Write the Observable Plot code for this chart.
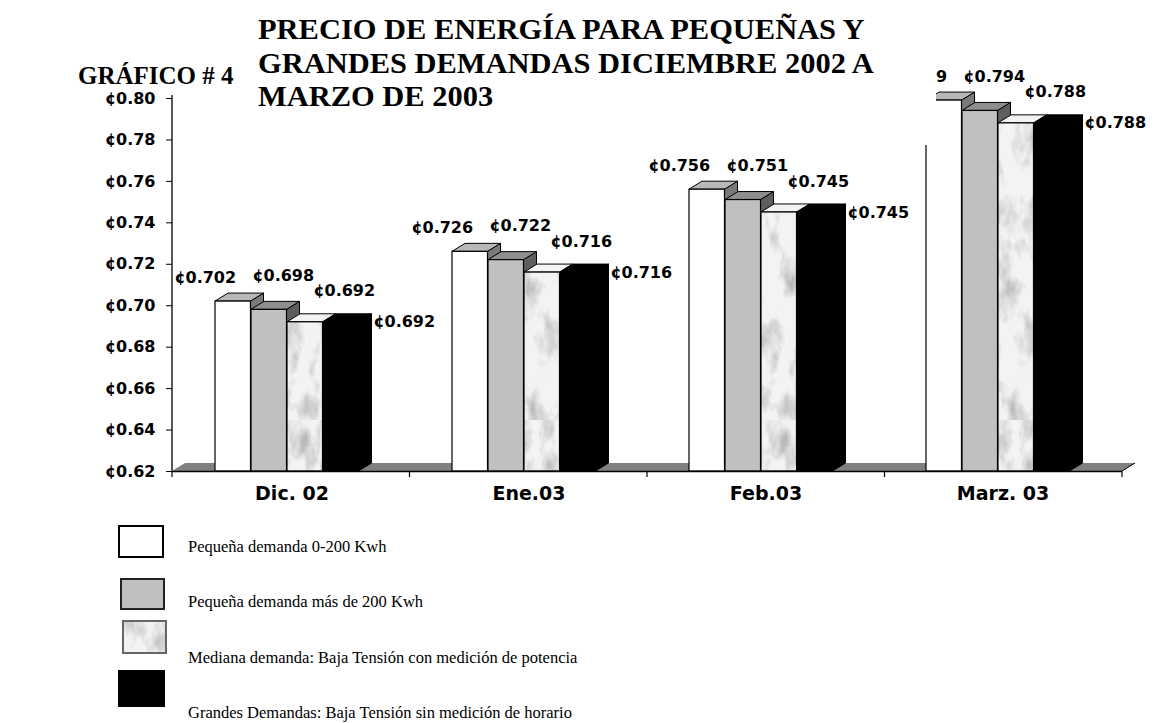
<!DOCTYPE html>
<html>
<head>
<meta charset="utf-8">
<script src="https://cdn.jsdelivr.net/npm/d3@7"></script>
<script src="https://cdn.jsdelivr.net/npm/@observablehq/plot@0.6"></script>
<style>
  body { margin: 0; background: #fff; }
  #page { position: relative; width: 1175px; height: 723px; overflow: hidden; background: #fff; }
  #chart { position: absolute; left: 0; top: 0; }
  .serif { font-family: "Liberation Serif", "Times New Roman", serif; color: #000; }
  #gtitle { position: absolute; left: 78px; top: 61px; font-weight: bold; font-size: 25px; line-height: 30px; white-space: nowrap; }
  #titlebox { position: absolute; left: 252px; top: 0; width: 684px; height: 145px; background: #fff; }
  #title { position: absolute; left: 6px; top: 13px; font-weight: bold; font-size: 29px; line-height: 33.5px; white-space: nowrap; transform: scaleX(1.05); transform-origin: 0 0; }
  .lg-box { position: absolute; display: block; }
  .lg-text { position: absolute; left: 188px; font-size: 16.5px; line-height: 18px; white-space: nowrap; }
</style>
</head>
<body>
<svg width="0" height="0" style="position:absolute">
  <defs>
    <filter id="marbleNoise" x="0" y="0" width="100%" height="100%" color-interpolation-filters="sRGB">
      <feTurbulence type="fractalNoise" baseFrequency="0.05 0.025" numOctaves="4" seed="7"/>
      <feColorMatrix type="matrix" values="0 0 0 0 0.5  0 0 0 0 0.5  0 0 0 0 0.52  1.4 0 0 0 -0.66"/>
    </filter>
    <pattern id="marble" patternUnits="userSpaceOnUse" width="160" height="420">
      <rect width="160" height="420" fill="#f3f3f3"/>
      <rect width="160" height="420" filter="url(#marbleNoise)"/>
    </pattern>
  </defs>
</svg>
<div id="page">
  <div id="chart"></div>
  <div id="gtitle" class="serif">GRÁFICO # 4</div>
  <div id="titlebox"><div id="title" class="serif">PRECIO DE ENERGÍA PARA PEQUEÑAS Y<br>GRANDES DEMANDAS DICIEMBRE 2002 A<br>MARZO DE 2003</div></div>
  <div id="legend"></div>
</div>
<script>
// ---------------- data ----------------
const categories = ["Dic. 02", "Ene.03", "Feb.03", "Marz. 03"];
const seriesNames = [
  "Pequeña demanda 0-200 Kwh",
  "Pequeña demanda más de 200 Kwh",
  "Mediana demanda: Baja Tensión con medición de potencia",
  "Grandes Demandas: Baja Tensión sin medición de horario"
];
const pequenaDemanda0a200 = [0.702, 0.726, 0.756, 0.799];
const pequenaDemandaMas200 = [0.698, 0.722, 0.751, 0.794];
const medianaDemandaBT = [0.692, 0.716, 0.745, 0.788];
const grandesDemandasBT = [0.692, 0.716, 0.745, 0.788];
const yTicks = [0.62, 0.64, 0.66, 0.68, 0.70, 0.72, 0.74, 0.76, 0.78, 0.80];

const seriesValues = [pequenaDemanda0a200, pequenaDemandaMas200, medianaDemandaBT, grandesDemandasBT];
const rows = seriesValues.map((vals, j) =>
  vals.map((v, i) => ({category: categories[i], series: seriesNames[j], value: v})));

// ---------------- styles ----------------
const W = 1175, H = 510, ML = 172, MR = 53, MT = 98, MB = 39;
const BAND = (W - ML - MR) / categories.length;
const BW = 36, GOFF = 42, DX = 13, DY = 8;
const fronts = ["#ffffff", "#c0c0c0", "url(#marble)", "#000000"];
const tops = ["#b8b8b8", "#8e8e8e", "#f3f3f3", "#000000"];
const sides = ["#7a7a7a", "#5e5e5e", "#bdbdbd", "#000000"];
const labelDx = [-28, 14, 39, 63];
const labelDy = [-24, -34, -31, 0];
const dataFont = {fontSize: 16, fontWeight: "bold", fontFamily: "DejaVu Sans"};

const marks = [];
marks.push(Plot.axisY({ticks: yTicks, tickFormat: d => "¢" + d.toFixed(2), tickSize: 6, tickPadding: 11,
  fontSize: 16, fontWeight: "bold", fontFamily: "DejaVu Sans", label: null}));
marks.push(Plot.axisX({tickSize: 0, tickPadding: 15, fontSize: 19, fontWeight: "bold", fontFamily: "DejaVu Sans", label: null}));
rows.forEach((data, j) => {
  marks.push(Plot.barY(data, {
    x: "category", y1: yTicks[0], y2: "value",
    fill: fronts[j], stroke: "#000", strokeWidth: 1.2,
    insetLeft: GOFF + BW * j, insetRight: BAND - GOFF - BW * (j + 1)
  }));
});
marks.push(Plot.ruleY([yTicks[0]], {stroke: "#000", strokeWidth: 1.3}));
rows.forEach((data, j) => {
  marks.push(Plot.text(data, {
    x: "category", y: "value", text: d => "¢" + d.value.toFixed(3),
    dx: GOFF + BW * j + BW / 2 - BAND / 2 + labelDx[j], dy: labelDy[j],
    fill: "#000", ...dataFont
  }));
});

const chart = Plot.plot({
  width: W, height: H,
  marginLeft: ML, marginRight: MR, marginTop: MT, marginBottom: MB,
  x: {domain: categories, padding: 0},
  y: {domain: [yTicks[0], yTicks[yTicks.length - 1]]},
  style: {fontFamily: "DejaVu Sans", background: "transparent", overflow: "visible", color: "#000"},
  marks
});

// ---------------- 3D decoration derived from the plot's scales ----------------
const ns = "http://www.w3.org/2000/svg";
const xs = chart.scale("x"), ys = chart.scale("y");
const [rx0, rx1] = xs.range;
const yBase = ys.range[0], yTop = ys.range[1];
function el(tag, attrs) {
  const e = document.createElementNS(ns, tag);
  for (const k in attrs) e.setAttribute(k, attrs[k]);
  return e;
}
const barGroups = chart.querySelectorAll('g[aria-label="bar"]');
const floorG = el("g", {});
floorG.appendChild(el("polygon", {
  points: `${rx0},${yBase} ${rx1},${yBase} ${rx1 + DX},${yBase - DY} ${rx0 + DX},${yBase - DY}`,
  fill: "#808080", stroke: "none"
}));
floorG.appendChild(el("line", {x1: rx1, y1: yBase, x2: rx1 + DX, y2: yBase - DY, stroke: "#000", "stroke-width": 1}));
floorG.appendChild(el("line", {x1: rx0, y1: yTop - 3, x2: rx0, y2: yBase, stroke: "#000", "stroke-width": 1.3}));
const step = (rx1 - rx0) / categories.length;
for (let i = 0; i <= categories.length; i++) {
  const xx = rx0 + i * step;
  floorG.appendChild(el("line", {x1: xx, y1: yBase, x2: xx, y2: yBase + 6, stroke: "#000", "stroke-width": 1.2}));
}
barGroups[0].parentNode.insertBefore(floorG, barGroups[0]);
barGroups.forEach((g, j) => {
  const extra = el("g", {stroke: "#000", "stroke-width": 1, "stroke-linejoin": "round"});
  g.querySelectorAll("rect").forEach(r => {
    const x = +r.getAttribute("x"), y = +r.getAttribute("y");
    const w = +r.getAttribute("width"), h = +r.getAttribute("height");
    extra.appendChild(el("polygon", {
      points: `${x + w},${y} ${x + w + DX},${y - DY} ${x + w + DX},${y + h - DY} ${x + w},${y + h}`,
      fill: sides[j]
    }));
    extra.appendChild(el("polygon", {
      points: `${x},${y} ${x + DX},${y - DY} ${x + w + DX},${y - DY} ${x + w},${y}`,
      fill: tops[j]
    }));
  });
  g.parentNode.insertBefore(extra, g);
});

document.getElementById("chart").appendChild(chart);

// ---------------- legend ----------------
const legend = document.getElementById("legend");
const boxPos = [[118, 525, 46, 33], [120, 578, 45, 32], [122, 620, 45, 34], [118, 670, 47, 37]];
const boxStroke = ["#000", "#222", "#666", "#000"];
const textTop = [538, 593, 649, 704];
seriesNames.forEach((name, j) => {
  const [bx, by, bw, bh] = boxPos[j];
  const s = el("svg", {width: bw, height: bh, class: "lg-box"});
  s.style.left = bx + "px"; s.style.top = by + "px";
  s.appendChild(el("rect", {x: 1, y: 1, width: bw - 2, height: bh - 2, fill: fronts[j], stroke: boxStroke[j], "stroke-width": 2}));
  legend.appendChild(s);
  const t = document.createElement("div");
  t.className = "lg-text serif";
  t.style.top = textTop[j] + "px";
  t.textContent = name;
  legend.appendChild(t);
});
</script>
</body>
</html>
